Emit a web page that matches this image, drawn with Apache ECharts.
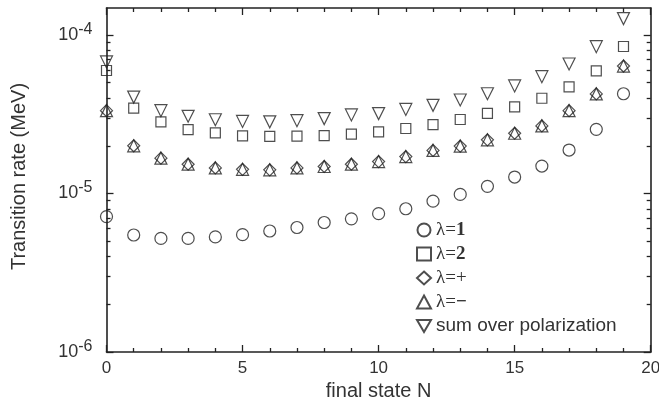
<!DOCTYPE html>
<html>
<head>
<meta charset="utf-8">
<script src="https://cdn.jsdelivr.net/npm/echarts@6/dist/echarts.min.js"></script>
<style>
  html, body { margin: 0; padding: 0; background: #ffffff; }
  #chart { width: 659px; height: 410px; }
</style>
</head>
<body>
<div id="chart"></div>
<script>
// Final state index N
const finalStates = [0, 1, 2, 3, 4, 5, 6, 7, 8, 9, 10, 11, 12, 13, 14, 15, 16, 17, 18, 19];

// Transition rates (MeV) for each photon polarization
const rateLambda1 = [7.15e-6, 5.47e-6, 5.21e-6, 5.21e-6, 5.32e-6, 5.50e-6, 5.80e-6, 6.10e-6, 6.56e-6, 6.92e-6,
                     7.46e-6, 8.01e-6, 8.95e-6, 9.87e-6, 1.11e-5, 1.27e-5, 1.49e-5, 1.88e-5, 2.54e-5, 4.26e-5];
const rateLambda2 = [5.97e-5, 3.46e-5, 2.83e-5, 2.53e-5, 2.41e-5, 2.31e-5, 2.29e-5, 2.30e-5, 2.32e-5, 2.37e-5,
                     2.45e-5, 2.57e-5, 2.72e-5, 2.93e-5, 3.20e-5, 3.52e-5, 3.99e-5, 4.71e-5, 5.93e-5, 8.46e-5];
const rateLambdaPlus = [3.33e-5, 2.00e-5, 1.67e-5, 1.53e-5, 1.45e-5, 1.42e-5, 1.41e-5, 1.45e-5, 1.48e-5, 1.53e-5,
                        1.59e-5, 1.71e-5, 1.87e-5, 1.99e-5, 2.18e-5, 2.40e-5, 2.67e-5, 3.33e-5, 4.25e-5, 6.37e-5];
const rateLambdaMinus = [3.33e-5, 2.00e-5, 1.67e-5, 1.53e-5, 1.45e-5, 1.42e-5, 1.41e-5, 1.45e-5, 1.48e-5, 1.53e-5,
                         1.59e-5, 1.71e-5, 1.87e-5, 1.99e-5, 2.18e-5, 2.40e-5, 2.67e-5, 3.33e-5, 4.25e-5, 6.37e-5];
const rateSum = [6.76e-5, 4.06e-5, 3.33e-5, 3.07e-5, 2.92e-5, 2.85e-5, 2.83e-5, 2.88e-5, 2.97e-5, 3.13e-5,
                 3.19e-5, 3.39e-5, 3.60e-5, 3.89e-5, 4.26e-5, 4.77e-5, 5.46e-5, 6.56e-5, 8.44e-5, 1.27e-4];

// Series names as shown in the legend
const seriesNames = ['λ=1', 'λ=2', 'λ=+', 'λ=−', 'sum over polarization'];

// Logarithmic axis ticks
const yMajorTicks = [1e-6, 1e-5, 1e-4];
const yMinorTicks = [2e-6, 3e-6, 4e-6, 5e-6, 6e-6, 7e-6, 8e-6, 9e-6,
                     2e-5, 3e-5, 4e-5, 5e-5, 6e-5, 7e-5, 8e-5, 9e-5];

const INK = '#222';
const TEXT = '#333';
const Y_MIN = 1e-6;
const Y_MAX = 1.48e-4;

// Downward-pointing triangle marker
const TRIANGLE_DOWN = 'path://M0,0L2,0L1,1.732Z';

function pairs(values) {
  return finalStates.map((n, i) => [n, values[i]]);
}

function xAxisDef(position, showLabels) {
  return {
    type: 'value',
    position: position,
    min: 0,
    max: 20,
    interval: 5,
    name: showLabels ? 'final state N' : '',
    nameLocation: 'middle',
    nameGap: 28,
    nameTextStyle: { fontFamily: 'Liberation Sans', fontSize: 20, color: TEXT },
    axisLine: { show: true, onZero: false, lineStyle: { color: INK, width: 1.6 } },
    axisTick: { show: true, inside: true, length: 7, lineStyle: { color: INK, width: 1.3 } },
    minorTick: { show: true, splitNumber: 5, length: 4, lineStyle: { color: INK, width: 1.3 } },
    axisLabel: { show: showLabels, margin: 8, fontFamily: 'Liberation Sans', fontSize: 17, color: TEXT },
    splitLine: { show: false },
    minorSplitLine: { show: false }
  };
}

function yAxisDef(position, ticks, tickLen, showLine, showLabels) {
  return {
    type: 'log',
    logBase: 10,
    position: position,
    min: Y_MIN,
    max: Y_MAX,
    name: showLabels ? 'Transition rate (MeV)' : '',
    nameLocation: 'middle',
    nameGap: 77,
    nameTextStyle: { fontFamily: 'Liberation Sans', fontSize: 20, color: TEXT, padding: [0, 0, 0, 7] },
    axisLine: { show: showLine, onZero: false, lineStyle: { color: INK, width: 1.6 } },
    axisTick: { show: true, inside: true, length: tickLen, customValues: ticks, lineStyle: { color: INK, width: 1.3 } },
    axisLabel: {
      show: showLabels,
      customValues: yMajorTicks,
      margin: 14,
      formatter: v => '{m|10}{e|' + Math.round(Math.log10(v)) + '}',
      rich: {
        m: { fontFamily: 'Liberation Sans', fontSize: 18, color: TEXT },
        e: { fontFamily: 'Liberation Sans', fontSize: 16, color: TEXT, padding: [0, 0, 11, 0] }
      }
    },
    splitLine: { show: false }
  };
}

function legendText(name) {
  if (name.indexOf('λ=') === 0) {
    const rest = name.slice(2);
    const style = rest === '+' ? 'g' : 'b';
    return '{g|λ=}{' + style + '|' + rest + '}';
  }
  return '{s|' + name + '}';
}

const hollow = { color: 'rgba(0,0,0,0)', borderColor: INK, borderWidth: 1.2 };

function scatter(name, values, symbol, size) {
  return {
    name: name,
    type: 'scatter',
    xAxisIndex: 0,
    yAxisIndex: 0,
    symbol: symbol,
    symbolSize: size,
    itemStyle: hollow,
    emphasis: { disabled: true },
    data: pairs(values)
  };
}

const chart = echarts.init(document.getElementById('chart'), null, { renderer: 'canvas' });

chart.setOption({
  animation: false,
  backgroundColor: '#ffffff',
  grid: { left: 106.5, right: 8.3, top: 8, bottom: 58, outerBoundsMode: 'none' },
  legend: {
    orient: 'vertical',
    left: 416,
    top: 220.5,
    padding: 0,
    itemWidth: 14,
    itemHeight: 13,
    itemGap: 5,
    data: seriesNames,
    formatter: legendText,
    textStyle: {
      color: TEXT,
      rich: {
        g: { fontFamily: 'Liberation Serif', fontSize: 19, lineHeight: 19, color: TEXT },
        b: { fontFamily: 'Liberation Serif', fontSize: 19, lineHeight: 19, fontWeight: 'bold', color: TEXT },
        s: { fontFamily: 'Liberation Sans', fontSize: 19, lineHeight: 19, color: TEXT }
      }
    }
  },
  xAxis: [xAxisDef('bottom', true), xAxisDef('top', false)],
  yAxis: [
    yAxisDef('left', yMajorTicks, 7, true, true),
    yAxisDef('left', yMinorTicks, 4, false, false),
    yAxisDef('right', yMajorTicks, 7, true, false),
    yAxisDef('right', yMinorTicks, 4, false, false)
  ],
  series: [
    scatter(seriesNames[0], rateLambda1, 'circle', 12),
    scatter(seriesNames[1], rateLambda2, 'rect', 10),
    scatter(seriesNames[2], rateLambdaPlus, 'diamond', 12),
    scatter(seriesNames[3], rateLambdaMinus, 'triangle', 12),
    scatter(seriesNames[4], rateSum, TRIANGLE_DOWN, 12)
  ]
});
</script>
</body>
</html>
